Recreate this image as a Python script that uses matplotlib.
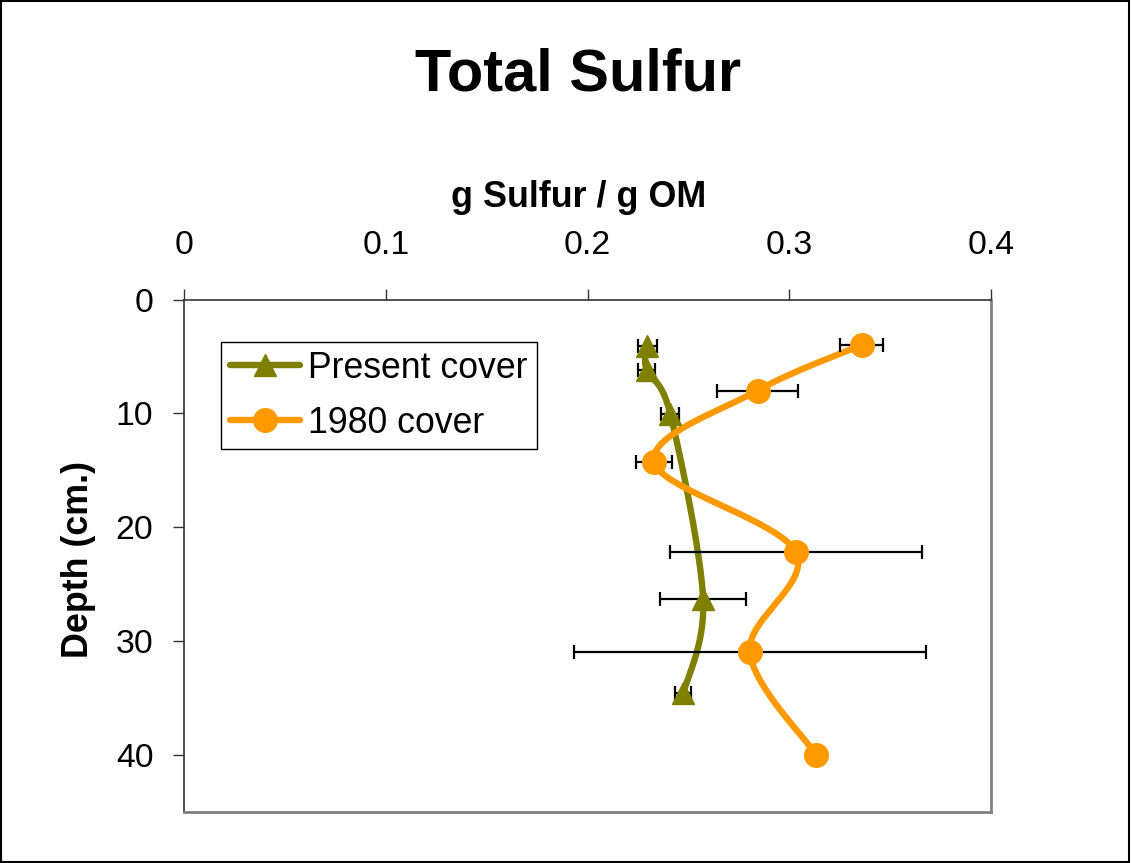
import numpy as np
import matplotlib
matplotlib.use("Agg")
import matplotlib.pyplot as plt
from matplotlib.patches import Rectangle

plt.rcParams['font.family'] = ['Liberation Sans', 'DejaVu Sans']

# Depth profiles of total sulfur (g S / g organic matter)
present_depth = [4.1, 6.2, 10.1, 26.3, 34.6]
present_sulfur = [0.2297, 0.2293, 0.2411, 0.2573, 0.2475]
present_err = [0.0046, 0.0042, 0.0045, 0.0212, 0.0040]

cover1980_depth = [4, 8, 14.3, 22.2, 31, 40]
cover1980_sulfur = [0.3359, 0.2843, 0.2330, 0.3032, 0.2804, 0.3133]
cover1980_err = [0.0107, 0.0200, 0.0089, 0.0624, 0.0872, np.nan]

x_ticks = [0, 0.1, 0.2, 0.3, 0.4]
x_tick_labels = ["0", "0.1", "0.2", "0.3", "0.4"]
y_ticks = [0, 10, 20, 30, 40]

OLIVE = "#808000"
ORANGE = "#FF9900"


def smooth(x, y, n=40):
    """Catmull-Rom style cubic Bezier smoothing through the points."""
    P = np.column_stack([x, y]).astype(float)
    ext = np.vstack([P[0], P, P[-1]])
    t = np.linspace(0, 1, n)[:, None]
    parts = []
    for i in range(len(P) - 1):
        p0, p1, p2, p3 = ext[i], ext[i + 1], ext[i + 2], ext[i + 3]
        c1 = p1 + (p2 - p0) / 6.0
        c2 = p2 - (p3 - p1) / 6.0
        seg = (1 - t) ** 3 * p1 + 3 * (1 - t) ** 2 * t * c1 + 3 * (1 - t) * t ** 2 * c2 + t ** 3 * p2
        parts.append(seg if i == 0 else seg[1:])
    return np.vstack(parts)


W, H = 1131, 863
fig = plt.figure(figsize=(W / 100, H / 100), dpi=100)
ax = fig.add_axes([184 / W, 1 - 811.5 / H, 807 / W, 512 / H])

for depth, val, err, color, marker, ms, label in [
    (present_depth, present_sulfur, present_err, OLIVE, "^", 16, "Present cover"),
    (cover1980_depth, cover1980_sulfur, cover1980_err, ORANGE, "o", 17, "1980 cover"),
]:
    curve = smooth(val, depth)
    ax.plot(curve[:, 0], curve[:, 1], color=color, lw=4.6, zorder=2,
            solid_capstyle="round")
    e = np.asarray(err, dtype=float)
    ok = ~np.isnan(e)
    ax.errorbar(np.asarray(val)[ok], np.asarray(depth)[ok], xerr=e[ok], fmt="none",
                ecolor="black", elinewidth=1.6, capsize=4.7, capthick=1.6, zorder=3)
    ax.plot(val, depth, linestyle="none", marker=marker, ms=ms, color=color,
            markeredgecolor=color, zorder=4)
    # legend proxy
    ax.plot([], [], color=color, lw=4.6, marker=marker, ms=ms,
            markeredgecolor=color, label=label, solid_capstyle="round")

ax.set_xlim(0, 0.4)
ax.set_ylim(45, 0)
ax.set_xticks(x_ticks)
ax.set_xticklabels(x_tick_labels)
ax.set_yticks(y_ticks)
ax.xaxis.tick_top()
ax.xaxis.set_label_position("top")
ax.tick_params(axis="x", direction="out", length=8, width=1, pad=19.5, labelsize=24.3,
               color="#333333")
ax.tick_params(axis="y", direction="out", length=8, width=1, pad=14, labelsize=24.3,
               color="#333333")

ax.spines["top"].set_color("#333333")
ax.spines["left"].set_color("#333333")
ax.spines["top"].set_linewidth(1.2)
ax.spines["left"].set_linewidth(1.2)
ax.spines["right"].set_color("#808080")
ax.spines["bottom"].set_color("#808080")
ax.spines["right"].set_linewidth(2)
ax.spines["bottom"].set_linewidth(2)

fig.text(578 / W, 1 - 75 / H, "Total Sulfur", ha="center", va="center",
         fontsize=42.8, fontweight="bold")
fig.text(579 / W, 1 - 197 / H, "g Sulfur / g OM", ha="center", va="center",
         fontsize=25.8, fontweight="bold")
fig.text(78 / W, 1 - 559 / H, "Depth (cm.)", ha="center", va="center",
         rotation=90, fontsize=25.8, fontweight="bold")

leg = ax.legend(loc="upper left", bbox_to_anchor=(221 / W, 1 - 342 / H),
                bbox_transform=fig.transFigure, borderaxespad=0, fontsize=25.7,
                frameon=True, fancybox=False, framealpha=1, edgecolor="black",
                handlelength=1.95, handletextpad=0.25, labelspacing=0.55,
                borderpad=0.25)
leg.get_frame().set_linewidth(1.0)

fig.patches.append(Rectangle((0.0005, 0.0008), 0.998, 0.998, transform=fig.transFigure,
                             fill=False, edgecolor="black", linewidth=1.5))

fig.savefig("out.png", dpi=100)
